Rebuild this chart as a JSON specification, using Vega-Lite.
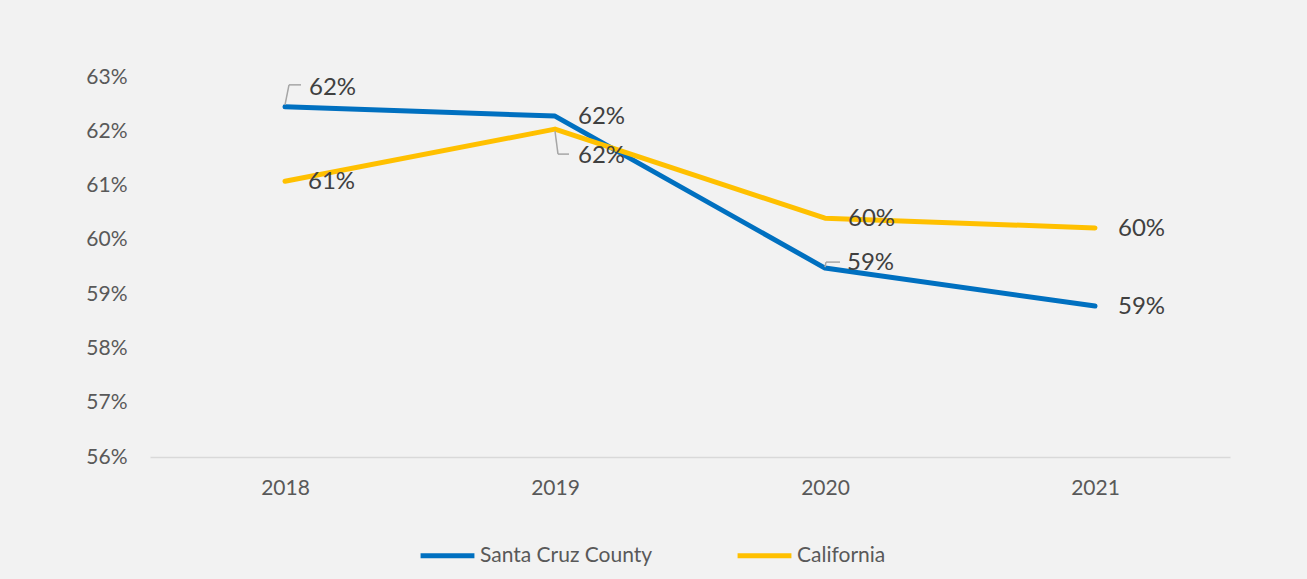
{
  "$schema": "https://vega.github.io/schema/vega-lite/v6.json",
  "autosize": {"type": "none"},
  "width": 1080,
  "height": 380,
  "padding": {"left": 150, "top": 77, "right": 77, "bottom": 122},
  "background": "#f2f2f2",
  "config": {
    "view": {"stroke": null},
    "font": "Lato"
  },
  "data": {
    "values": [
      {"year": "2018", "series": "Santa Cruz County", "value": 0.6245},
      {"year": "2019", "series": "Santa Cruz County", "value": 0.6228},
      {"year": "2020", "series": "Santa Cruz County", "value": 0.5948},
      {"year": "2021", "series": "Santa Cruz County", "value": 0.5878},
      {"year": "2018", "series": "California", "value": 0.6108},
      {"year": "2019", "series": "California", "value": 0.6204},
      {"year": "2020", "series": "California", "value": 0.6040},
      {"year": "2021", "series": "California", "value": 0.6022}
    ]
  },
  "encoding": {
    "x": {
      "field": "year", "type": "ordinal",
      "scale": {"type": "point", "padding": 0.5},
      "axis": {
        "title": null, "labelAngle": 0, "ticks": false, "grid": false,
        "domainColor": "#d9d9d9", "domainWidth": 1.5,
        "labelFontSize": 21, "labelColor": "#595959", "labelPadding": 20, "labelFont": "Lato"
      }
    },
    "y": {
      "field": "value", "type": "quantitative",
      "scale": {"domain": [0.56, 0.63], "nice": false, "zero": false},
      "axis": {
        "title": null, "format": ".0%", "values": [0.56, 0.57, 0.58, 0.59, 0.60, 0.61, 0.62, 0.63],
        "grid": false, "ticks": false, "domain": false,
        "labelFontSize": 21, "labelColor": "#595959", "labelPadding": 23, "labelFont": "Lato"
      }
    }
  },
  "layer": [
    {
      "mark": {"type": "line", "strokeWidth": 5, "strokeCap": "round", "strokeJoin": "round"},
      "encoding": {
        "color": {
          "field": "series", "type": "nominal",
          "scale": {"domain": ["Santa Cruz County", "California"], "range": ["#0070c0", "#ffc000"]},
          "legend": {
            "title": null, "orient": "none", "direction": "horizontal",
            "legendX": 268, "legendY": 449,
            "symbolType": "stroke", "symbolSize": 2900, "symbolStrokeWidth": 5,
            "labelFontSize": 21, "labelColor": "#595959", "labelFont": "Lato", "labelLimit": 400,
            "labelOffset": 3, "columnPadding": 74
          }
        }
      }
    },
    {
      "transform": [{"filter": "!((datum.series=='Santa Cruz County' && (datum.year=='2018' || datum.year=='2020')) || (datum.series=='California' && datum.year=='2019'))"}],
      "mark": {"type": "text", "align": "left", "baseline": "middle", "dx": 23, "dy": 1, "fontSize": 24, "color": "#404040"},
      "encoding": {"text": {"field": "value", "format": ".0%"}}
    },
    {
      "transform": [{"filter": "datum.series=='Santa Cruz County' && datum.year=='2018'"}],
      "mark": {"type": "text", "align": "left", "baseline": "middle", "dx": 24, "dy": -19, "fontSize": 24, "color": "#404040"},
      "encoding": {"text": {"field": "value", "format": ".0%"}}
    },
    {
      "transform": [{"filter": "datum.series=='California' && datum.year=='2019'"}],
      "mark": {"type": "text", "align": "left", "baseline": "middle", "dx": 23, "dy": 27, "fontSize": 24, "color": "#404040"},
      "encoding": {"text": {"field": "value", "format": ".0%"}}
    },
    {
      "transform": [{"filter": "datum.series=='Santa Cruz County' && datum.year=='2020'"}],
      "mark": {"type": "text", "align": "left", "baseline": "middle", "dx": 22, "dy": -5, "fontSize": 24, "color": "#404040"},
      "encoding": {"text": {"field": "value", "format": ".0%"}}
    },
    {
      "transform": [{"filter": "datum.series=='Santa Cruz County' && datum.year=='2018'"}],
      "mark": {"type": "rule", "color": "#a6a6a6", "strokeWidth": 1.5, "yOffset": -2, "x2Offset": 4, "y2Offset": -22},
      "encoding": {"x2": {"field": "year"}, "y2": {"field": "value"}}
    },
    {
      "transform": [{"filter": "datum.series=='Santa Cruz County' && datum.year=='2018'"}],
      "mark": {"type": "rule", "color": "#a6a6a6", "strokeWidth": 1.5, "xOffset": 4, "yOffset": -22, "x2Offset": 16, "y2Offset": -22},
      "encoding": {"x2": {"field": "year"}, "y2": {"field": "value"}}
    },
    {
      "transform": [{"filter": "datum.series=='California' && datum.year=='2019'"}],
      "mark": {"type": "rule", "color": "#a6a6a6", "strokeWidth": 1.5, "yOffset": 2, "x2Offset": 3, "y2Offset": 25},
      "encoding": {"x2": {"field": "year"}, "y2": {"field": "value"}}
    },
    {
      "transform": [{"filter": "datum.series=='California' && datum.year=='2019'"}],
      "mark": {"type": "rule", "color": "#a6a6a6", "strokeWidth": 1.5, "xOffset": 3, "yOffset": 25, "x2Offset": 14, "y2Offset": 25},
      "encoding": {"x2": {"field": "year"}, "y2": {"field": "value"}}
    },
    {
      "transform": [{"filter": "datum.series=='Santa Cruz County' && datum.year=='2020'"}],
      "mark": {"type": "rule", "color": "#a6a6a6", "strokeWidth": 1.5, "yOffset": -1, "x2Offset": 1, "y2Offset": -6},
      "encoding": {"x2": {"field": "year"}, "y2": {"field": "value"}}
    },
    {
      "transform": [{"filter": "datum.series=='Santa Cruz County' && datum.year=='2020'"}],
      "mark": {"type": "rule", "color": "#a6a6a6", "strokeWidth": 1.5, "xOffset": 1, "yOffset": -6, "x2Offset": 15, "y2Offset": -6},
      "encoding": {"x2": {"field": "year"}, "y2": {"field": "value"}}
    }
  ]
}
